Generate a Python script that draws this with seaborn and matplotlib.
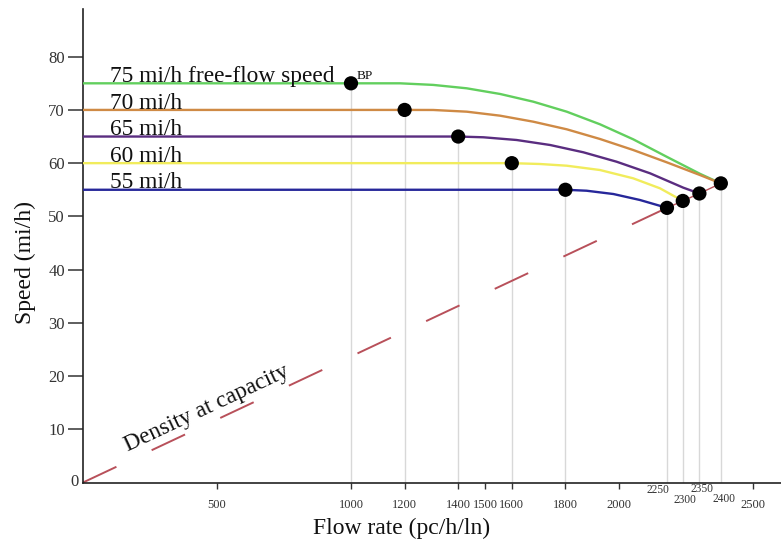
import numpy as np
import pandas as pd
import matplotlib
matplotlib.use("Agg")
import matplotlib.pyplot as plt
import seaborn as sns
from matplotlib.transforms import blended_transform_factory

# ---------------- data ----------------
speed_labels = ["75 mi/h free-flow speed", "70 mi/h", "65 mi/h", "60 mi/h", "55 mi/h"]
free_flow_speed = [75, 70, 65, 60, 55]
breakpoint_flow = [1000, 1200, 1400, 1600, 1800]
# capacity points as drawn in the (schematic) reference
capacity_flow = [2380, 2380, 2300, 2238, 2179]
capacity_speed = [56.2, 56.2, 54.3, 52.9, 51.6]
capacity_labels = ["2400", "2400", "2350", "2300", "2250"]

# points read along each curved (post-breakpoint) segment
flow_75 = [1183, 1307, 1432, 1556, 1680, 1805, 1929, 2053, 2178, 2302]
speed_75 = [75.0, 74.7, 74.06, 73.0, 71.55, 69.67, 67.3, 64.48, 61.2, 58.0]
flow_70 = [1307, 1432, 1556, 1680, 1805, 1929, 2053, 2178, 2302]
speed_70 = [69.99, 69.67, 68.92, 67.79, 66.36, 64.54, 62.47, 60.16, 57.77]
flow_65 = [1494, 1618, 1743, 1867, 1991, 2116, 2240]
speed_65 = [64.86, 64.35, 63.41, 62.04, 60.27, 58.09, 55.39]
flow_60 = [1705, 1805, 1929, 2053, 2153]
speed_60 = [59.84, 59.52, 58.71, 57.15, 55.27]
flow_55 = [1879, 1979, 2078]
speed_55 = [54.82, 54.2, 53.08]

curve_flows = [flow_75, flow_70, flow_65, flow_60, flow_55]
curve_speeds = [speed_75, speed_70, speed_65, speed_60, speed_55]

x_ticks = [500, 1000, 1200, 1400, 1500, 1600, 1800, 2000, 2500]
y_ticks = [10, 20, 30, 40, 50, 60, 70, 80]

curve_colors = ["#62cf5e", "#cf8a45", "#5a2d80", "#f1ec5c", "#26279a"]

# ---------------- figure ----------------
sns.set_theme(style="white")
plt.rcParams["font.family"] = ["Liberation Serif", "DejaVu Serif"]

fig = plt.figure(figsize=(7.81, 5.45), dpi=100)
W, H = 781, 545
x0, y0 = 83, 482.5
xmax, ymax = 2604, 89
pxx, pxy = 0.268, 5.3225
ax = fig.add_axes([x0 / W, (H - y0) / H, xmax * pxx / W, ymax * pxy / H])

rows = []
for name, ffs, bp, cf, cs, fl, sp in zip(speed_labels, free_flow_speed, breakpoint_flow,
                                          capacity_flow, capacity_speed, curve_flows, curve_speeds):
    xs = [0, bp] + fl + [cf]
    ys = [ffs, ffs] + sp + [cs]
    for i, (a, b) in enumerate(zip(xs, ys)):
        rows.append({"curve": name, "order": i, "flow": a, "speed": b})
df = pd.DataFrame(rows)

# grey drop lines
ax.vlines(breakpoint_flow, 0, free_flow_speed, color="#d8d8d8", lw=1.0, zorder=1)
cap_unique = sorted(set(zip(capacity_flow, capacity_speed, capacity_labels)))
ax.vlines([c[0] for c in cap_unique], 0, [c[1] for c in cap_unique], color="#d8d8d8", lw=1.0, zorder=1)

# density-at-capacity line
cap55 = cap_unique[0]
ax.plot([0, cap55[0]], [0, cap55[1]], color="#b8505a", lw=1.4, linestyle=(0, (19, 20)), zorder=2)
ax.plot([c[0] for c in cap_unique], [c[1] for c in cap_unique], color="#b8505a", lw=1.0, zorder=2)

sns.lineplot(data=df, x="flow", y="speed", hue="curve", palette=dict(zip(speed_labels, curve_colors)),
             sort=False, estimator=None, legend=False, linewidth=1.7, ax=ax, zorder=3)

# dots
dots = pd.DataFrame({"flow": breakpoint_flow + [c[0] for c in cap_unique],
                     "speed": free_flow_speed + [c[1] for c in cap_unique]})
sns.scatterplot(data=dots, x="flow", y="speed", color="black", s=105, edgecolor="none", ax=ax, zorder=5)

# curve labels
for name, ffs in zip(speed_labels, free_flow_speed):
    ax.text(101, ffs + 0.25, name, fontsize=16.8, color="#111111", ha="left", va="baseline", zorder=6)
ax.text(1022, 75.8, "BP", fontsize=9.5, color="#111111", ha="left", va="baseline")

ax.text(462, 14.0, "Density at capacity", fontsize=16.8, color="#111111", rotation=25.1,
        rotation_mode="anchor", ha="center", va="center")

# axes
ax.set_xlim(0, xmax)
ax.set_ylim(0, ymax)
ax.set_xticks(x_ticks)
ax.set_xticklabels([str(t) for t in x_ticks])
ax.set_yticks(y_ticks)
ax.set_yticklabels([str(t) for t in y_ticks])
ax.tick_params(axis="x", direction="out", length=4.5, width=1.0, pad=7.5, labelsize=9,
               labelcolor="#333333", color="#333333", bottom=True)
ax.tick_params(axis="y", direction="out", length=11, width=1.1, pad=2, labelsize=12,
               labelcolor="#333333", color="#333333", left=True)
for s in ["top", "right"]:
    ax.spines[s].set_visible(False)
for s in ["left", "bottom"]:
    ax.spines[s].set_color("#222222")
    ax.spines[s].set_linewidth(1.2)

trans = blended_transform_factory(ax.transData, ax.transAxes)
cap_offsets = {"2250": (-6.5, -5.6), "2300": (1.6, -12.4), "2350": (1.6, -5.0), "2400": (2.4, -12.0)}
for cf, cs, lab in cap_unique:
    dx, dy = cap_offsets[lab]
    ax.annotate(lab, xy=(cf, 0), xycoords=trans, xytext=(dx, dy), textcoords="offset points",
                ha="center", va="center", fontsize=8.3, color="#333333")
ax.annotate("0", xy=(0, 0), xycoords="data", xytext=(-6, 0), textcoords="offset points",
            ha="center", va="center", fontsize=12, color="#333333")

ax.set_xlabel("Flow rate (pc/h/ln)", fontsize=17, color="#111111")
ax.set_ylabel("Speed (mi/h)", fontsize=17, color="#111111")
ax.xaxis.set_label_coords((402 - x0) / (xmax * pxx), (y0 - 528) / (ymax * pxy))
ax.xaxis.label.set_va("center")
ax.yaxis.set_label_coords((25 - x0) / (xmax * pxx), (y0 - 262) / (ymax * pxy))
ax.yaxis.label.set_va("center")

fig.savefig("out.png", dpi=100)
